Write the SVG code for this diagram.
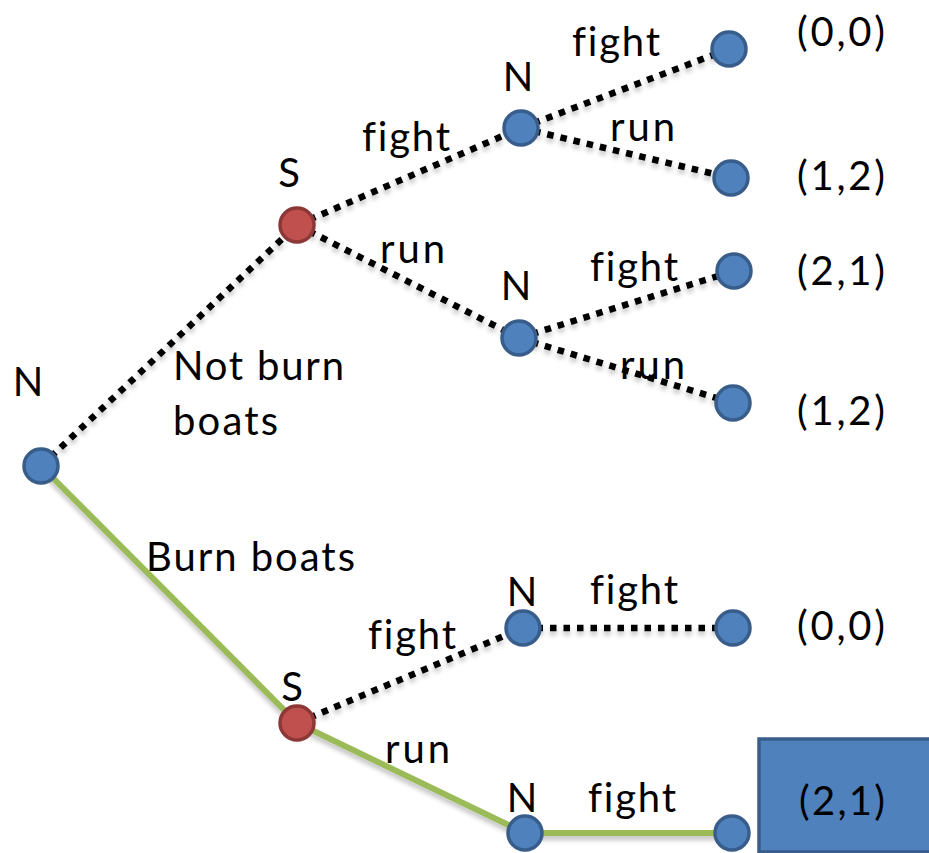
<svg xmlns="http://www.w3.org/2000/svg" width="929" height="853" viewBox="0 0 929 853">
  <style>
    .lbl { font-family: Lato, "Open Sans", "Liberation Sans", sans-serif; font-size: 40px; fill: #000; font-variant-ligatures: none; }
    .dot { fill: none; stroke: #000; stroke-width: 6.5; stroke-dasharray: 6.5 7; }
    .path { fill: none; stroke: #9bbb59; stroke-width: 6; stroke-linejoin: round; }
    .nat { fill: #4f81bd; stroke: #385d8a; stroke-width: 3.5; }
    .ship { fill: #c0504d; stroke: #8c3836; stroke-width: 3.5; }
  </style>
  <defs>
    <filter id="shade" x="-10%" y="-10%" width="120%" height="130%">
      <feGaussianBlur in="SourceAlpha" stdDeviation="2.5"/>
      <feOffset dx="0" dy="4" result="b"/>
      <feComponentTransfer><feFuncA type="linear" slope="0.25"/></feComponentTransfer>
      <feMerge><feMergeNode/><feMergeNode in="SourceGraphic"/></feMerge>
    </filter>
  </defs>
  <rect width="929" height="853" fill="#fff"/>

  <!-- connectors -->
  <g id="connectors" filter="url(#shade)">
    <line class="dot" x1="41" y1="466" x2="297" y2="225"/>
    <line class="dot" x1="297" y1="225" x2="521" y2="128"/>
    <line class="dot" x1="521" y1="128" x2="729" y2="49"/>
    <line class="dot" x1="521" y1="128" x2="731" y2="178"/>
    <line class="dot" x1="297" y1="225" x2="519" y2="338"/>
    <line class="dot" x1="519" y1="338" x2="734" y2="271"/>
    <line class="dot" x1="519" y1="338" x2="733" y2="403"/>
    <line class="dot" x1="297" y1="723" x2="523" y2="628"/>
    <line class="dot" x1="523" y1="628" x2="733" y2="628"/>
    <polyline class="path" points="41,466 297,723 525,833 732,833"/>
  </g>

  <!-- nodes -->
  <g id="root"><circle class="nat" cx="41" cy="466" r="17"/><text class="lbl" x="28" y="396" text-anchor="middle">N</text></g>
  <g id="s-top"><circle class="ship" cx="297" cy="225" r="17"/><text class="lbl" x="289" y="187" text-anchor="middle">S</text></g>
  <g id="n-top1"><circle class="nat" cx="521" cy="128" r="17"/><text class="lbl" x="518" y="91" text-anchor="middle">N</text></g>
  <g id="n-top2"><circle class="nat" cx="519" cy="338" r="17"/><text class="lbl" x="516" y="300" text-anchor="middle">N</text></g>
  <g id="leaf1"><circle class="nat" cx="729" cy="49" r="17"/><text class="lbl" x="797" y="46" textLength="88" lengthAdjust="spacing">(0,0)</text></g>
  <g id="leaf2"><circle class="nat" cx="731" cy="178" r="17"/><text class="lbl" x="797" y="190" textLength="88" lengthAdjust="spacing">(1,2)</text></g>
  <g id="leaf3"><circle class="nat" cx="734" cy="271" r="17"/><text class="lbl" x="797" y="285" textLength="88" lengthAdjust="spacing">(2,1)</text></g>
  <g id="leaf4"><circle class="nat" cx="733" cy="403" r="17"/><text class="lbl" x="797" y="425" textLength="88" lengthAdjust="spacing">(1,2)</text></g>
  <g id="s-bot"><circle class="ship" cx="297" cy="723" r="17"/><text class="lbl" x="292" y="701" text-anchor="middle">S</text></g>
  <g id="n-bot1"><circle class="nat" cx="523" cy="628" r="17"/><text class="lbl" x="522" y="606" text-anchor="middle">N</text></g>
  <g id="n-bot2"><circle class="nat" cx="525" cy="833" r="17"/><text class="lbl" x="522" y="812" text-anchor="middle">N</text></g>
  <g id="leaf5"><circle class="nat" cx="733" cy="628" r="17"/><text class="lbl" x="797" y="640" textLength="88" lengthAdjust="spacing">(0,0)</text></g>
  <g id="leaf6"><circle class="nat" cx="732" cy="833" r="17"/></g>
  <g id="outcome">
    <rect x="759" y="739" width="180" height="113" fill="#4f81bd" stroke="#385d8a" stroke-width="3.5"/>
    <text class="lbl" x="799" y="815" textLength="86" lengthAdjust="spacing">(2,1)</text>
  </g>

  <!-- edge labels -->
  <g id="edge-labels">
    <text class="lbl" x="362" y="151" textLength="88" lengthAdjust="spacing">fight</text>
    <text class="lbl" x="572" y="56" textLength="88" lengthAdjust="spacing">fight</text>
    <text class="lbl" x="610" y="141" textLength="65" lengthAdjust="spacing">run</text>
    <text class="lbl" x="380" y="263" textLength="65" lengthAdjust="spacing">run</text>
    <text class="lbl" x="590" y="281" textLength="88" lengthAdjust="spacing">fight</text>
    <text class="lbl" x="620" y="379" textLength="65" lengthAdjust="spacing">run</text>
    <text class="lbl" x="173" y="380" textLength="171" lengthAdjust="spacing">Not burn</text>
    <text class="lbl" x="173" y="435" textLength="105" lengthAdjust="spacing">boats</text>
    <text class="lbl" x="146" y="571" textLength="209" lengthAdjust="spacing">Burn boats</text>
    <text class="lbl" x="590" y="604" textLength="88" lengthAdjust="spacing">fight</text>
    <text class="lbl" x="368" y="649" textLength="88" lengthAdjust="spacing">fight</text>
    <text class="lbl" x="385" y="763" textLength="65" lengthAdjust="spacing">run</text>
    <text class="lbl" x="588" y="812" textLength="88" lengthAdjust="spacing">fight</text>
  </g>
</svg>
